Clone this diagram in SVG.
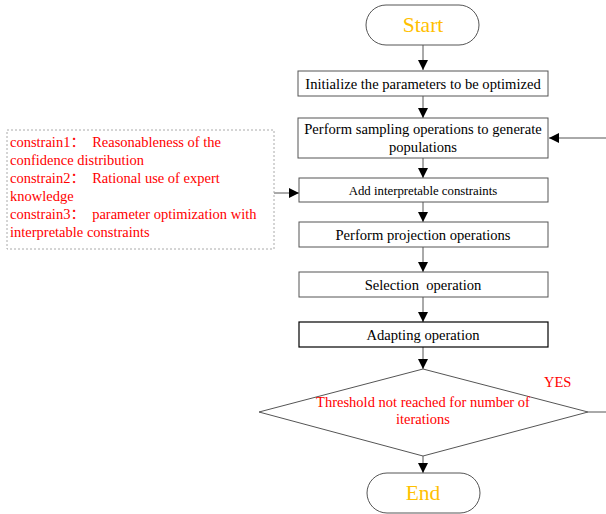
<svg xmlns="http://www.w3.org/2000/svg" width="606" height="514" viewBox="0 0 606 514">
<defs>
<marker id="ah" markerWidth="10" markerHeight="10" refX="10" refY="5" orient="auto" markerUnits="userSpaceOnUse"><path d="M0,0 L10,5 L0,10 z" fill="#000"/></marker>
</defs>
<style>
text{font-family:'Liberation Serif','Times New Roman',serif;}
.box{fill:#fff;stroke:#555;stroke-width:1;}
.lbl{font-size:14.6px;fill:#000;text-anchor:middle;}
.term{font-size:21.5px;fill:#FFC000;text-anchor:middle;}
.red{fill:#FF0000;font-size:14.5px;}
.con{stroke:#555;stroke-width:1;fill:none;}
.cjk{font-family:'Noto Sans CJK SC',sans-serif;}
</style>
<rect width="606" height="514" fill="#fff"/>
<g id="connectors">
<line class="con" x1="423" y1="45" x2="423" y2="70" marker-end="url(#ah)"/>
<line class="con" x1="423" y1="96" x2="423" y2="118" marker-end="url(#ah)"/>
<line class="con" x1="606" y1="138" x2="549" y2="138" marker-end="url(#ah)"/>
<line class="con" x1="423" y1="158" x2="423" y2="178" marker-end="url(#ah)"/>
<line class="con" x1="274" y1="193" x2="299" y2="193" marker-end="url(#ah)"/>
<line class="con" x1="423" y1="202" x2="423" y2="222" marker-end="url(#ah)"/>
<line class="con" x1="423" y1="247" x2="423" y2="272" marker-end="url(#ah)"/>
<line class="con" x1="423" y1="297" x2="423" y2="322" marker-end="url(#ah)"/>
<line class="con" x1="423" y1="347" x2="423" y2="369" marker-end="url(#ah)"/>
<line class="con" x1="423" y1="456" x2="423" y2="473" marker-end="url(#ah)"/>
<line class="con" x1="588" y1="412" x2="606" y2="412"/>
<text x="544" y="387" class="red">YES</text>
</g>
<g id="start">
<rect x="366" y="5" width="113" height="40" rx="20" ry="20" class="box"/>
<text x="423" y="32" class="term">Start</text>
</g>
<g id="init">
<rect x="298" y="71" width="250" height="25" class="box"/>
<text x="423" y="88.5" class="lbl">Initialize the parameters to be optimized</text>
</g>
<g id="sampling">
<rect x="298" y="118" width="250" height="40" class="box"/>
<text x="423" y="134" class="lbl">Perform sampling operations to generate</text>
<text x="423" y="152" class="lbl">populations</text>
</g>
<g id="constraints-note">
<rect x="7" y="130" width="267" height="119" fill="#fff" stroke="#aaa" stroke-width="1" stroke-dasharray="2,2"/>
<text class="red" xml:space="preserve"><tspan x="10" y="147">constrain1<tspan class="cjk">：</tspan>  Reasonableness of the</tspan><tspan x="10" y="165">confidence distribution</tspan><tspan x="10" y="183">constrain2<tspan class="cjk">：</tspan>  Rational use of expert</tspan><tspan x="10" y="201">knowledge</tspan><tspan x="10" y="219">constrain3<tspan class="cjk">：</tspan>  parameter optimization with</tspan><tspan x="10" y="237">interpretable constraints</tspan></text>
</g>
<g id="add">
<rect x="299" y="178" width="249" height="24" class="box"/>
<text x="423" y="194.5" class="lbl" style="font-size:12.8px">Add interpretable constraints</text>
</g>
<g id="projection">
<rect x="299" y="222" width="249" height="25" class="box"/>
<text x="423" y="239.5" class="lbl">Perform projection operations</text>
</g>
<g id="selection">
<rect x="299" y="272" width="249" height="25" class="box"/>
<text x="423" y="289.5" class="lbl" xml:space="preserve">Selection  operation</text>
</g>
<g id="adapting">
<rect x="299" y="322" width="249" height="25" fill="#fff" stroke="#000" stroke-width="1.2"/>
<text x="423" y="339.5" class="lbl">Adapting operation</text>
</g>
<g id="decision">
<polygon points="423,369 588,412 423,456 259,412" class="box"/>
<text x="423" y="407" class="red" text-anchor="middle">Threshold not reached for number of</text>
<text x="423" y="424" class="red" text-anchor="middle">iterations</text>
</g>
<g id="end">
<rect x="367" y="473" width="113" height="40" rx="20" ry="20" class="box"/>
<text x="423" y="500" class="term">End</text>
</g>
</svg>
